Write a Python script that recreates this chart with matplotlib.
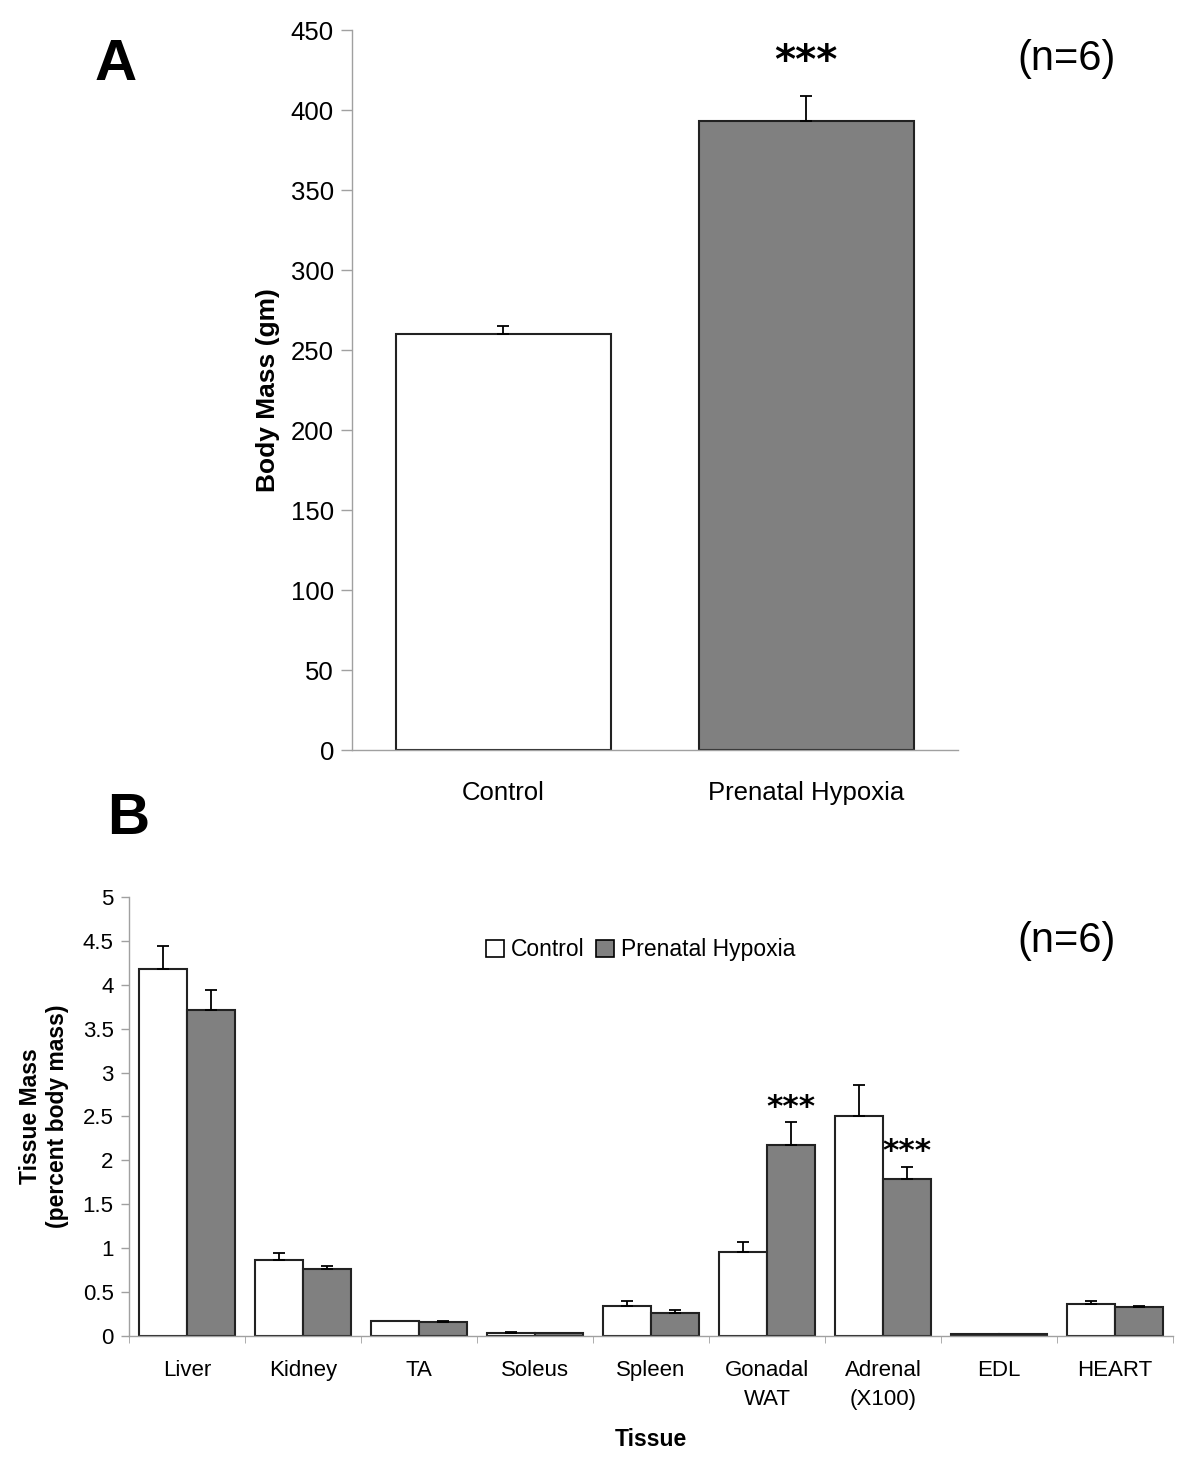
import numpy as np
import matplotlib
matplotlib.use('Agg')
import matplotlib.pyplot as plt
from matplotlib.patches import Patch

plt.rcParams['font.family'] = ['Liberation Sans', 'DejaVu Sans']

# Panel A: body mass
groups_a = ['Control', 'Prenatal Hypoxia']
mass_a = [260, 393]
mass_a_err = [5, 16]

# Panel B: tissue mass (percent body mass)
tissues = ['Liver', 'Kidney', 'TA', 'Soleus', 'Spleen', 'Gonadal\nWAT', 'Adrenal\n(X100)', 'EDL', 'HEART']
ctrl_b = [4.18, 0.87, 0.17, 0.035, 0.345, 0.96, 2.51, 0.02, 0.365]
ctrl_b_err = [0.26, 0.075, 0.0, 0.01, 0.055, 0.11, 0.345, 0.0, 0.035]
hyp_b = [3.71, 0.76, 0.16, 0.03, 0.26, 2.18, 1.79, 0.02, 0.33]
hyp_b_err = [0.23, 0.04, 0.01, 0.0, 0.04, 0.26, 0.14, 0.0, 0.015]
stars_b = [5, 6]  # index of tissues with *** on hypoxia bar

grey = '#808080'
axis_grey = '#a0a0a0'
edge = '#222222'

fig = plt.figure(figsize=(12, 14.79), dpi=100)

# ---------------- Panel A ----------------
axA = fig.add_axes([0.2933, 0.4929, 0.798 - 0.2933, 0.9797 - 0.4929])
xa = np.arange(len(groups_a))
axA.bar(xa, mass_a, width=0.71, color=['white', grey], edgecolor=edge, linewidth=1.5, zorder=2)
for x, v, e in zip(xa, mass_a, mass_a_err):
    axA.errorbar(x, v, yerr=[[0], [e]], fmt='none', ecolor='black', elinewidth=1.3,
                 capsize=4.3, capthick=1.3, zorder=3)
axA.set_xlim(-0.5, 1.5)
axA.set_ylim(0, 450)
axA.set_yticks(np.arange(0, 451, 50))
axA.set_xticks(xa)
axA.set_xticklabels(groups_a, fontsize=18.5)
axA.tick_params(axis='x', length=0, pad=22)
axA.tick_params(axis='y', labelsize=18.5, length=8, color=axis_grey, width=1, pad=5)
for s in ['top', 'right']:
    axA.spines[s].set_visible(False)
for s in ['left', 'bottom']:
    axA.spines[s].set_color(axis_grey)
    axA.spines[s].set_linewidth(1)
axA.set_ylabel('Body Mass (gm)', fontsize=19, fontweight='bold', labelpad=8)
axA.text(1, mass_a[1] + mass_a_err[1] + 14, '***', ha='center', va='baseline', fontsize=29,
         family='DejaVu Sans', fontweight='bold')
fig.text(0.096, 0.956, 'A', fontsize=42, fontweight='bold', ha='center', va='center')
fig.text(0.889, 0.96, '(n=6)', fontsize=30, ha='center', va='center')

# ---------------- Panel B ----------------
axB = fig.add_axes([0.1075, 0.0967, 0.9775 - 0.1075, 0.3935 - 0.0967])
xb = np.arange(len(tissues))
w = 0.415
axB.bar(xb - w / 2, ctrl_b, width=w, color='white', edgecolor=edge, linewidth=1.5, zorder=2)
axB.bar(xb + w / 2, hyp_b, width=w, color=grey, edgecolor=edge, linewidth=1.5, zorder=2)
for x, v, e in zip(xb - w / 2, ctrl_b, ctrl_b_err):
    if e > 0:
        axB.errorbar(x, v, yerr=[[0], [e]], fmt='none', ecolor='black', elinewidth=1.3,
                     capsize=4.3, capthick=1.3, zorder=3)
for x, v, e in zip(xb + w / 2, hyp_b, hyp_b_err):
    if e > 0:
        axB.errorbar(x, v, yerr=[[0], [e]], fmt='none', ecolor='black', elinewidth=1.3,
                     capsize=4.3, capthick=1.3, zorder=3)
for i in stars_b:
    axB.text(xb[i] + w / 2, hyp_b[i] + hyp_b_err[i] + 0.07, '***', ha='center', va='baseline',
             fontsize=22.5, family='DejaVu Sans', fontweight='bold')
axB.set_xlim(-0.5, len(tissues) - 0.5)
axB.set_ylim(0, 5)
axB.set_yticks(np.arange(0, 5.01, 0.5))
axB.set_yticklabels(['0', '0.5', '1', '1.5', '2', '2.5', '3', '3.5', '4', '4.5', '5'])
axB.set_xticks(xb)
axB.set_xticklabels(tissues, fontsize=16, linespacing=1.5)
axB.set_xticks(np.arange(-0.5, len(tissues)), minor=True)
axB.tick_params(axis='x', which='major', length=0, pad=17)
axB.tick_params(axis='x', which='minor', length=5, color=axis_grey)
axB.tick_params(axis='y', labelsize=16, length=6, color=axis_grey, width=1, pad=5)
for s in ['top', 'right']:
    axB.spines[s].set_visible(False)
for s in ['left', 'bottom']:
    axB.spines[s].set_color(axis_grey)
    axB.spines[s].set_linewidth(1)
axB.set_ylabel('Tissue Mass\n(percent body mass)', fontsize=16.5, fontweight='bold', labelpad=10,
               linespacing=1.2)
axB.set_xlabel('Tissue', fontsize=16.5, fontweight='bold', labelpad=13)

handles = [Patch(facecolor='white', edgecolor='black', linewidth=1.2),
           Patch(facecolor=grey, edgecolor='black', linewidth=1.2)]
axB.legend(handles, ['Control', 'Prenatal Hypoxia'], loc='upper center', bbox_to_anchor=(0.49, 0.953),
           ncol=2, frameon=False, fontsize=16.5, handlelength=0.8, handleheight=0.8,
           handletextpad=0.3, columnspacing=0.5)
fig.text(0.107, 0.446, 'B', fontsize=42, fontweight='bold', ha='center', va='center')
fig.text(0.889, 0.364, '(n=6)', fontsize=30, ha='center', va='center')

fig.savefig('out.png', dpi=100)
